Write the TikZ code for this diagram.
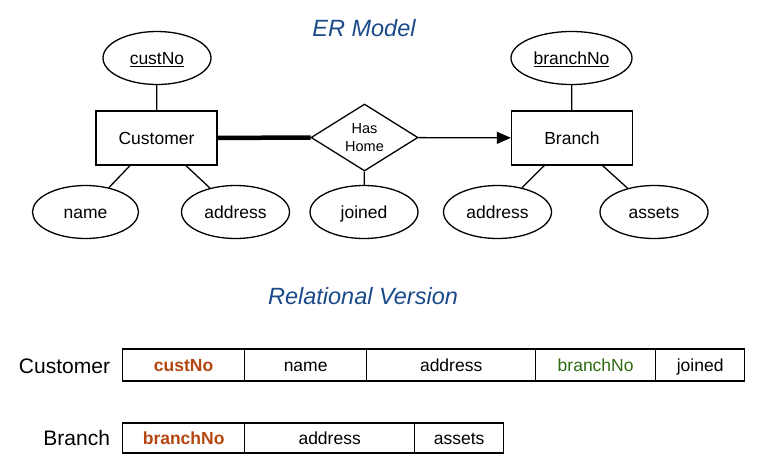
\documentclass[tikz,border=0pt]{standalone}
\usepackage{fontspec}
\setmainfont{Liberation Sans}
\usetikzlibrary{shapes.geometric,arrows.meta}
\definecolor{titleblue}{HTML}{1A4A8A}
\definecolor{keyorange}{HTML}{B5460F}
\definecolor{fkgreen}{HTML}{2E6B10}
\begin{document}
\begin{tikzpicture}[x=1pt,y=-1pt,
  line width=1.3pt,
  every node/.style={font=\fontsize{17.5}{20}\selectfont},
  txt/.style={text height=12.5pt,text depth=0pt},
  entity/.style={draw,rectangle,txt,minimum width=121pt,minimum height=54pt,inner sep=0pt},
  attr/.style={draw,ellipse,txt,minimum width=108pt,minimum height=53pt,inner sep=0pt},
  rel/.style={draw,diamond,minimum width=107pt,minimum height=67pt,inner sep=0pt,
    align=center,font=\fontsize{14.5}{18}\selectfont},
  heading/.style={font=\fontsize{23.5}{26}\selectfont\itshape,text=titleblue},
  cell/.style={draw,rectangle,txt,anchor=west,minimum height=32pt,inner sep=0pt},
  rowlabel/.style={anchor=east,font=\fontsize{21}{24}\selectfont},
  pk/.style={font=\fontsize{17.5}{20}\selectfont\bfseries,text=keyorange}]
\useasboundingbox (0,0) rectangle (761,474);

% ER diagram
\node[heading] (ertitle) at (364,28) {ER Model};
\node[entity] (cust) at (156.5,138) {Customer};
\node[entity] (branch) at (572,138) {Branch};
\node[rel] (has) at (364.5,137.5) {Has\\Home};
\node[attr] (custno) at (157,58) {\underline{custNo}};
\node[attr,minimum width=121pt] (branchno) at (571.5,58) {\underline{branchNo}};
\node[attr,minimum width=106pt] (name) at (85.5,212) {name};
\node[attr] (caddr) at (235.5,212) {address};
\node[attr] (joined) at (364,212) {joined};
\node[attr] (baddr) at (497.5,212) {address};
\node[attr] (assets) at (654,212) {assets};

\draw (custno) -- (cust);
\draw (branchno) -- (branch);
\draw (name) -- (cust);
\draw (caddr) -- (cust);
\draw (baddr) -- (branch);
\draw (assets) -- (branch);
\draw (has) -- (joined);
\draw[line width=4.5pt] (cust) -- (has);
\draw[-{Triangle[length=14pt,width=12pt]}] (has) -- (branch);

% Relational schema
\node[heading] (reltitle) at (363,296) {Relational Version};

\node[rowlabel] (custlabel) at (114,366) {Customer};
\node[cell,minimum width=122pt,pk] (c1) at (122,365) {custNo};
\node[cell,minimum width=122pt] (c2) at (244,365) {name};
\node[cell,minimum width=169pt] (c3) at (366,365) {address};
\node[cell,minimum width=120pt,text=fkgreen] (c4) at (535,365) {branchNo};
\node[cell,minimum width=89pt] (c5) at (655,365) {joined};

\node[rowlabel] (branchlabel) at (114,438) {Branch};
\node[cell,minimum width=122pt,minimum height=30pt,pk] (b1) at (122,438) {branchNo};
\node[cell,minimum width=170pt,minimum height=30pt] (b2) at (244,438) {address};
\node[cell,minimum width=89pt,minimum height=30pt] (b3) at (414,438) {assets};
\end{tikzpicture}
\end{document}
